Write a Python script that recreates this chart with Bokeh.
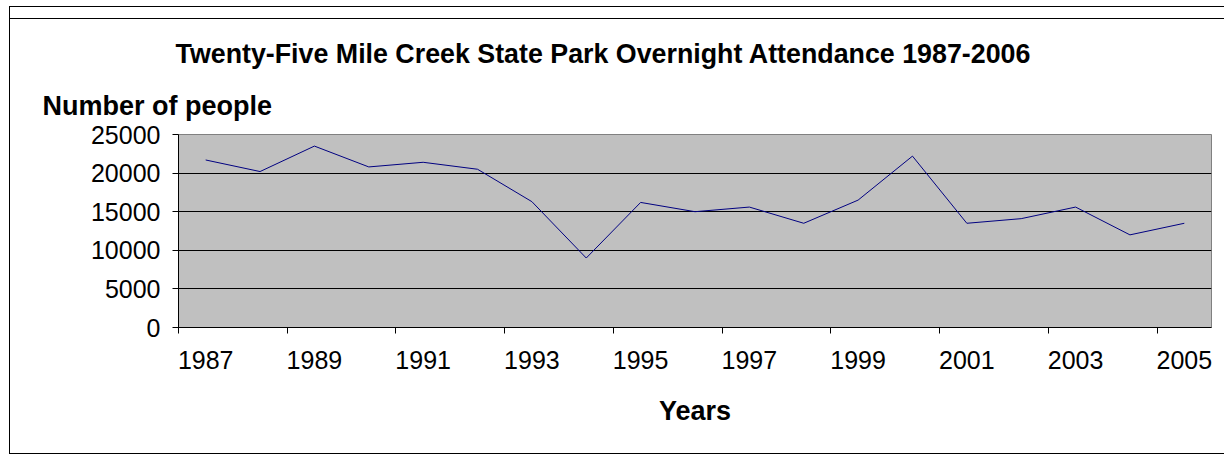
from bokeh.plotting import figure
from bokeh.layouts import column
from bokeh.models import FixedTicker, Range1d, Title
from bokeh.embed import file_html
from bokeh.resources import INLINE

# ---- data ----
years = ["1987", "1988", "1989", "1990", "1991", "1992", "1993", "1994", "1995", "1996",
         "1997", "1998", "1999", "2000", "2001", "2002", "2003", "2004", "2005"]
attendance = [21700, 20200, 23500, 20800, 21400, 20500, 16300, 9000, 16200, 15000,
              15600, 13500, 16500, 22200, 13500, 14100, 15600, 12000, 13500]
y_ticks = [0, 5000, 10000, 15000, 20000, 25000]

title_text = "Twenty-Five Mile Creek State Park Overnight Attendance 1987-2006"
y_title = "Number of people"
x_title = "Years"

FONT = "Liberation Sans"

n = len(years)
xs = [i + 0.5 for i in range(n)]

border_css = ", ".join([
    "linear-gradient(#000,#000) 9px 6px / 1215px 1px no-repeat",
    "linear-gradient(#000,#000) 9px 18px / 1215px 1px no-repeat",
    "linear-gradient(#000,#000) 9px 6px / 1px 447px no-repeat",
    "linear-gradient(#000,#000) 9px 453px / 1215px 1px no-repeat",
])

fig = figure(width=1227, height=459, x_range=Range1d(0, n), y_range=Range1d(0, 25000),
             output_backend="svg", toolbar_location=None,
             min_border_left=178, min_border_right=16, min_border_top=134, min_border_bottom=132)
fig.title = None
fig.background_fill_color = "#C0C0C0"
fig.border_fill_alpha = 0
fig.outline_line_color = "#808080"

fig.line(xs, attendance, line_color="#000080", line_width=1)

xa = fig.xaxis[0]
xa.ticker = FixedTicker(ticks=[i + 0.5 for i in range(0, n, 2)],
                        minor_ticks=[float(i) for i in range(0, n, 2)])
xa.major_label_overrides = {i + 0.5: years[i] for i in range(0, n, 2)}
xa.major_tick_line_color = None
xa.major_tick_out = 6
xa.major_tick_in = 0
xa.minor_tick_out = 6
xa.minor_tick_in = 0
xa.minor_tick_line_color = "black"
xa.axis_line_color = "black"
xa.major_label_standoff = 17
xa.major_label_text_font = FONT
xa.major_label_text_font_size = "25px"
xa.major_label_text_color = "black"
xa.axis_label = x_title
xa.axis_label_text_font = FONT
xa.axis_label_text_font_size = "27px"
xa.axis_label_text_font_style = "bold"
xa.axis_label_text_color = "black"
xa.axis_label_standoff = 24

ya = fig.yaxis[0]
ya.ticker = FixedTicker(ticks=y_ticks)
ya.major_tick_out = 6
ya.major_tick_in = 0
ya.minor_tick_line_color = None
ya.axis_line_color = "black"
ya.major_tick_line_color = "black"
ya.major_label_standoff = 12
ya.major_label_text_font = FONT
ya.major_label_text_font_size = "25px"
ya.major_label_text_color = "black"

fig.xgrid.grid_line_color = None
fig.ygrid.ticker = FixedTicker(ticks=y_ticks)
fig.ygrid.grid_line_color = "black"
fig.ygrid.grid_line_width = 1

fig.add_layout(Title(text=y_title, align="left", offset=-136, text_font=FONT,
                     text_font_size="27px", text_font_style="bold", text_color="black",
                     standoff=28), "above")
fig.add_layout(Title(text=title_text, align="left", offset=-3, text_font=FONT,
                     text_font_size="26.8px", text_font_style="bold", text_color="black",
                     standoff=12), "above")

p = column(fig, width=1227, height=459, styles={"background": border_css + ", #ffffff"})

open("out.html", "w").write(file_html(p, INLINE))
